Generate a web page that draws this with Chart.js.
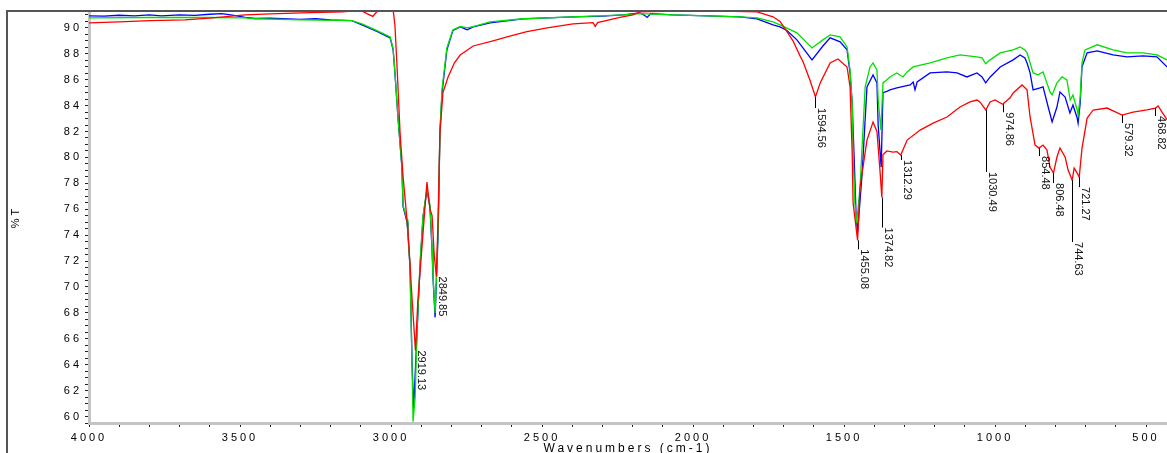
<!DOCTYPE html>
<html lang="en">
<head>
  <meta charset="UTF-8" />
  <title>FTIR spectra</title>
  <script src="https://cdn.jsdelivr.net/npm/chart.js"></script>
  <style>
    body {
      margin: 0;
      background-color: #ffffff;
    }
    #ftir {
      display: block;
    }
  </style>
</head>
<body>
  <canvas id="ftir" width="1167" height="453"></canvas>

  <script>
    // wavenumber (cm-1) / %T pairs for each sample
    const redWn = [4000, 3900, 3800, 3682, 3600, 3483, 3400, 3295, 3162, 3100, 3080, 3060, 3045, 3010, 2993, 2987, 2980, 2970, 2960, 2944, 2930, 2919.13, 2911, 2894, 2881, 2871, 2864, 2857, 2849.85, 2844, 2838, 2828, 2811, 2790, 2771, 2728, 2662, 2616, 2550, 2483, 2397, 2331, 2324, 2316, 2242, 2199, 2175, 2066, 1900, 1788, 1735, 1712, 1689, 1669, 1645, 1636, 1613, 1594.56, 1579, 1546, 1520, 1490, 1480, 1473, 1470, 1455.08, 1447, 1424, 1404, 1391, 1381, 1374.82, 1371, 1358, 1338, 1325, 1312.29, 1291, 1248, 1205, 1159, 1116, 1083, 1060, 1050, 1030.49, 1016.5, 1000, 974.86, 950, 940, 910.6, 894, 884, 867.5, 854.48, 841, 828, 818, 806.48, 795, 785, 768, 758, 744.63, 738, 728, 721.27, 712, 695, 675, 629, 600, 579.32, 543, 497, 468.82, 460, 447, 430];
    const redT = [90.39, 90.46, 90.55, 90.62, 90.75, 91.0, 91.08, 91.16, 91.24, 91.35, 91.1, 90.88, 91.3, 91.45, 91.4, 90.2, 87.0, 81.9, 78.5, 74.4, 69.0, 65.1, 69.0, 74.15, 78.1, 76.0, 75.5, 72.5, 70.8, 75.4, 81.9, 85.0, 86.2, 87.3, 87.9, 88.6, 89.0, 89.3, 89.7, 90.0, 90.3, 90.4, 90.1, 90.4, 90.8, 91.0, 91.24, 91.3, 91.3, 91.24, 90.85, 90.5, 89.7, 89.0, 87.8, 87.4, 85.98, 84.66, 85.75, 87.29, 87.6, 86.98, 85.44, 80.33, 76.5, 73.6, 77.7, 81.34, 82.73, 82.0, 79.0, 76.9, 80.2, 80.5, 80.41, 80.45, 80.18, 81.34, 82.11, 82.65, 83.12, 83.89, 84.28, 84.43, 84.28, 83.66, 84.28, 84.43, 84.1, 84.6, 84.97, 85.59, 85.21, 83.12, 80.95, 80.72, 80.95, 80.57, 79.25, 78.79, 80.03, 80.72, 80.03, 79.02, 78.25, 79.17, 78.79, 78.48, 80.72, 83.04, 83.66, 83.81, 83.5, 83.27, 83.5, 83.66, 83.81, 83.97, 83.5, 82.89];

    const blueWn = [4000, 3950, 3900, 3850, 3800, 3760, 3700, 3650, 3600, 3560, 3520, 3483, 3450, 3400, 3300, 3250, 3200, 3130, 3096, 3043, 3003, 2993, 2987, 2977, 2964, 2960, 2947, 2944, 2937, 2930, 2925, 2914, 2904, 2894, 2881, 2871, 2864, 2861, 2854, 2844, 2838, 2831, 2815, 2795, 2770, 2748, 2728, 2672, 2563, 2397, 2300, 2231, 2176, 2160, 2152, 2140, 2066, 1954, 1844, 1788, 1735, 1712, 1689, 1656, 1606, 1570, 1546, 1513, 1490, 1480, 1473, 1465, 1460, 1455, 1440, 1424, 1404, 1391, 1387, 1377, 1371, 1358, 1348, 1325, 1281, 1271, 1265, 1258, 1215, 1159, 1126, 1093, 1060, 1043, 1031, 1016, 983, 940, 917, 901, 894, 884, 874, 851, 841, 824, 811, 795, 785, 768, 752, 742, 728, 725, 718, 712, 695, 662, 609, 563, 510, 464, 430];
    const blueT = [90.93, 90.9, 90.97, 90.93, 91.0, 90.93, 91.0, 90.97, 91.05, 91.1, 90.97, 90.8, 90.72, 90.75, 90.66, 90.7, 90.62, 90.55, 90.23, 89.69, 89.23, 88.3, 86.5, 83.1, 79.25, 76.2, 75.0, 74.15, 71.52, 63.8, 60.6, 66.42, 71.52, 75.39, 77.47, 76.16, 72.83, 70.75, 67.65, 74.15, 81.88, 84.97, 88.3, 89.8, 90.08, 89.85, 90.08, 90.39, 90.7, 90.85, 90.9, 91.0, 91.16, 90.95, 90.8, 91.1, 91.0, 90.93, 90.85, 90.7, 90.23, 90.08, 89.8, 89.07, 87.53, 88.6, 89.23, 88.92, 88.3, 86.5, 84.2, 79.0, 75.5, 74.23, 78.79, 85.44, 86.37, 85.75, 82.5, 79.25, 85.0, 85.1, 85.21, 85.36, 85.6, 85.82, 85.21, 85.82, 86.52, 86.6, 86.52, 86.21, 86.52, 86.21, 85.75, 86.21, 86.98, 87.53, 87.91, 87.68, 87.29, 86.52, 85.21, 85.36, 85.44, 83.89, 82.73, 83.89, 85.05, 84.66, 83.43, 84.05, 83.04, 82.65, 84.2, 87.0, 88.07, 88.22, 87.91, 87.76, 87.84, 87.76, 86.98];

    const greenWn = [4000, 3800, 3600, 3483, 3450, 3300, 3130, 3096, 3043, 3003, 2993, 2987, 2977, 2964, 2960, 2947, 2944, 2937, 2930, 2927, 2920, 2914, 2904, 2894, 2881, 2871, 2864, 2861, 2854, 2844, 2838, 2831, 2815, 2795, 2770, 2748, 2728, 2672, 2563, 2397, 2231, 2176, 2066, 1954, 1844, 1788, 1735, 1712, 1656, 1606, 1570, 1546, 1513, 1490, 1480, 1473, 1470, 1464, 1458, 1447, 1430, 1414, 1404, 1391, 1387, 1378, 1371, 1358, 1348, 1325, 1305, 1291, 1271, 1215, 1159, 1116, 1060, 1043, 1031, 1016, 983, 940, 917, 901, 894, 874, 858, 841, 818, 811, 795, 778, 762, 751, 742, 728, 725, 718, 712, 702, 662, 609, 563, 510, 464, 430];
    const greenT = [90.77, 90.8, 90.8, 90.77, 90.7, 90.62, 90.55, 90.3, 89.75, 89.3, 88.4, 86.6, 83.1, 79.3, 76.3, 75.2, 74.2, 71.5, 63.5, 59.6, 61.5, 66.5, 71.8, 75.5, 77.6, 76.3, 73.0, 70.9, 68.0, 74.5, 82.1, 85.3, 88.45, 89.85, 90.1, 90.0, 90.1, 90.46, 90.7, 90.85, 91.0, 91.1, 91.0, 90.93, 90.85, 90.77, 90.46, 90.23, 89.61, 88.45, 89.07, 89.46, 89.3, 88.53, 86.75, 84.2, 80.3, 76.47, 74.92, 77.71, 85.44, 86.98, 87.29, 86.75, 84.5, 82.1, 85.75, 86.0, 86.21, 86.52, 86.21, 86.6, 86.98, 87.29, 87.68, 87.91, 87.76, 87.68, 87.22, 87.53, 88.07, 88.3, 88.53, 88.3, 88.07, 86.52, 86.37, 86.6, 85.05, 84.82, 85.75, 86.21, 85.98, 84.43, 84.82, 83.66, 83.27, 84.66, 87.29, 88.3, 88.69, 88.3, 88.07, 88.07, 87.91, 87.53];

    // picked peaks (on the red trace)
    const peakWn = [2919.13, 2849.85, 1594.56, 1455.08, 1374.82, 1312.29, 1030.49, 974.86, 854.48, 806.48, 744.63, 721.27, 579.32, 468.82];

    const toPoints = (wn, t) => wn.map((x, i) => ({ x: x, y: t[i] }));

    // length of the black leader under each peak label, px
    const leaderLen = [0, 0, 11, 9, 30, 5, 62, 8, 8, 10, 62, 10, 8, 8];

    // canvas letter spacing for the axis text
    const wideText = {
      id: 'wideText',
      beforeDraw(chart) {
        chart.ctx.letterSpacing = '3px';
      }
    };

    const peakLabels = {
      id: 'peakLabels',
      afterDatasetsDraw(chart) {
        const ctx = chart.ctx;
        const xs = chart.scales.x;
        const ys = chart.scales.y;
        ctx.save();
        ctx.letterSpacing = '0px';
        ctx.strokeStyle = '#000';
        ctx.fillStyle = '#111';
        ctx.lineWidth = 1;
        ctx.font = '11px "Liberation Sans", Arial, sans-serif';
        ctx.textAlign = 'left';
        ctx.textBaseline = 'alphabetic';
        peakWn.forEach((wn, i) => {
          const t = redT[redWn.indexOf(wn)];
          const px = Math.round(xs.getPixelForValue(wn)) + 0.5;
          const py = ys.getPixelForValue(t);
          const len = leaderLen[i];
          if (len > 0) {
            ctx.beginPath();
            ctx.moveTo(px, py);
            ctx.lineTo(px, py + len);
            ctx.stroke();
          }
          ctx.save();
          ctx.translate(px + 2, py + len);
          ctx.rotate(Math.PI / 2);
          ctx.fillText(wn.toFixed(2), 0, 0);
          ctx.restore();
        });
        ctx.restore();
      }
    };

    // outer frame: left edge and top edge
    const frame = {
      id: 'frame',
      afterDraw(chart) {
        const ctx = chart.ctx;
        ctx.save();
        ctx.strokeStyle = '#555';
        ctx.lineWidth = 2;
        ctx.beginPath();
        ctx.moveTo(7, 453);
        ctx.lineTo(7, 11);
        ctx.lineTo(1167, 11);
        ctx.stroke();
        ctx.restore();
      }
    };

    Chart.defaults.font.family = '"Liberation Sans", Arial, sans-serif';
    Chart.defaults.font.size = 11;
    Chart.defaults.color = '#000';

    new Chart(document.getElementById('ftir'), {
      type: 'line',
      data: {
        datasets: [
          { data: toPoints(redWn, redT), borderColor: '#ff0000' },
          { data: toPoints(greenWn, greenT), borderColor: '#00e000' },
          { data: toPoints(blueWn, blueT), borderColor: '#0000ff' }
        ]
      },
      options: {
        responsive: false,
        animation: false,
        devicePixelRatio: 1,
        layout: { padding: { top: 11, right: 0, bottom: 0, left: 0 } },
        elements: {
          point: { radius: 0 },
          line: { borderWidth: 1.3, tension: 0 }
        },
        plugins: {
          legend: { display: false },
          tooltip: { enabled: false }
        },
        scales: {
          x: {
            type: 'linear',
            reverse: true,
            min: 430.6,
            max: 4000,
            afterFit(s) {
              s.height = 30;
              s.paddingLeft = 0;
              s.paddingRight = 0;
            },
            border: { display: true, color: '#c4c4c4', width: 3 },
            grid: { drawOnChartArea: false, tickLength: 4, tickColor: '#222', tickWidth: 1 },
            ticks: {
              stepSize: 100,
              autoSkip: false,
              includeBounds: false,
              maxRotation: 0,
              padding: 4,
              callback: v => (v % 500 === 0 ? String(v) : '')
            },
            title: {
              display: true,
              text: 'Wavenumbers (cm-1)',
              font: { size: 12 },
              padding: { top: 0, bottom: -3 }
            }
          },
          y: {
            min: 59.5,
            max: 91.3,
            afterFit(s) {
              s.width = 89;
              s.paddingTop = 0;
              s.paddingBottom = 0;
            },
            border: { display: true, color: '#c4c4c4', width: 3 },
            grid: { drawOnChartArea: false, tickLength: 4, tickColor: '#222', tickWidth: 1 },
            ticks: {
              stepSize: 0.5,
              autoSkip: false,
              includeBounds: false,
              padding: 3,
              callback: v => (Number.isInteger(v) && v % 2 === 0 ? String(v) : '')
            },
            title: {
              display: true,
              text: '%T',
              font: { size: 11 },
              padding: { top: 9, bottom: 0 }
            }
          }
        }
      },
      plugins: [wideText, peakLabels, frame]
    });
  </script>
</body>
</html>
